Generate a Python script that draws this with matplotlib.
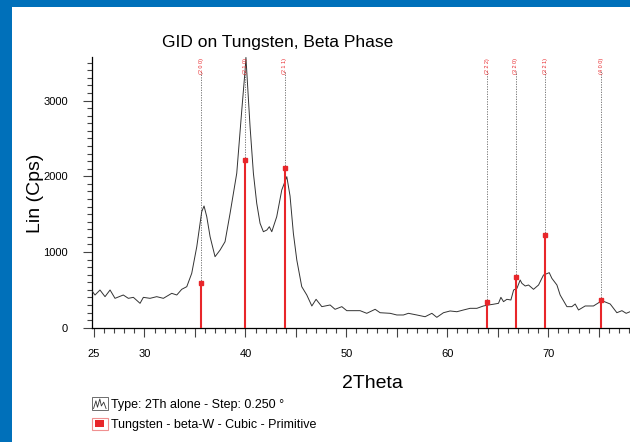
import numpy as np
import matplotlib
matplotlib.use("Agg")
import matplotlib.pyplot as plt
from matplotlib.patches import Rectangle
from matplotlib.lines import Line2D
from matplotlib.legend_handler import HandlerBase

plt.rcParams['font.family'] = ['Liberation Sans', 'DejaVu Sans']

# measured scan (2theta, counts)
two_theta = [24.85, 25.1, 25.59, 26.09, 26.59, 27.08, 27.9, 28.4, 28.9, 29.56,
             29.89, 30.55, 31.21, 31.87, 32.7, 33.2, 33.69, 34.19, 34.68, 35.18,
             35.67, 35.9, 36.17, 36.5, 36.99, 37.49, 37.98, 38.48, 39.14, 39.64,
             39.97, 40.05, 40.46, 40.79, 41.12, 41.45, 41.78, 42.12, 42.37, 42.61,
             43.1, 43.6, 44.1, 44.42, 44.75, 45.09, 45.58, 46.08, 46.58, 47.0,
             47.57, 48.39, 48.88, 49.55, 50.04, 51.36, 52.02, 52.85, 53.34, 54.34,
             55.0, 55.65, 56.15, 56.98, 57.8, 58.47, 58.96, 59.62, 60.28, 60.95,
             61.6, 62.26, 62.93, 63.58, 64.08, 64.57, 65.07, 65.31, 65.57, 65.9,
             66.3, 66.57, 66.9, 67.22, 67.39, 67.72, 68.05, 68.54, 69.04, 69.53,
             70.1, 70.36, 70.86, 71.18, 71.85, 72.34, 72.67, 73.0, 73.66, 74.48,
             75.32, 76.14, 76.8, 77.3, 77.72, 78.1]
counts = [476, 432, 498, 410, 498, 388, 432, 388, 401, 322,
          401, 388, 410, 388, 454, 432, 507, 542, 718, 1070,
          1532, 1608, 1466, 1202, 938, 1026, 1136, 1511, 2040, 2876,
          3404, 3570, 2655, 2040, 1643, 1379, 1268, 1290, 1334, 1268,
          1466, 1819, 1995, 1740, 1247, 894, 542, 432, 287, 375,
          278, 300, 243, 278, 225, 225, 190, 243, 198, 190,
          168, 168, 190, 168, 145, 190, 137, 198, 221, 211,
          234, 256, 256, 287, 300, 310, 322, 401, 344, 375,
          366, 498, 520, 630, 586, 551, 564, 507, 564, 696,
          727, 652, 564, 432, 278, 278, 313, 234, 287, 287,
          357, 313, 198, 225, 190, 211]

# reference pattern: beta-W
ref_pos = [35.6, 40.0, 43.9, 63.95, 66.8, 69.7, 75.25]
ref_int = [590, 2215, 2110, 340, 670, 1225, 365]
ref_hkl = ['(2 0 0)', '(2 1 0)', '(2 1 1)', '(2 2 2)', '(3 2 0)', '(3 2 1)', '(4 0 0)']

x_ticks = [25, 30, 35, 40, 45, 50, 55, 60, 65, 70, 75]
x_labels = ['25', '30', '', '40', '', '50', '', '60', '', '70', '']
y_ticks = [0, 1000, 2000, 3000]

fig = plt.figure(figsize=(6.3, 4.42), dpi=100, facecolor='#0070BA')
fig.patches.append(Rectangle((12 / 630, 0), 1, 1 - 7 / 442, transform=fig.transFigure,
                             facecolor='white', edgecolor='none', zorder=-1))

ax = fig.add_axes([92.3 / 630, 1 - 327.7 / 442, (630 - 92.3) / 630, (327.7 - 57) / 442])
ax.set_xlim(24.83, 78.1)
ax.set_ylim(0, 3576)

ax.plot(two_theta, counts, color='#333333', lw=0.7, zorder=3)

red = '#e8262a'
top = 3390
for p, h, lab in zip(ref_pos, ref_int, ref_hkl):
    ax.vlines(p, 0, h, color=red, lw=1.5, zorder=4)
    ax.plot([p], [h], marker='s', ms=2.6, color=red, mec=red, zorder=5)
    ax.vlines(p, h, top, color='#666666', lw=0.6, linestyles=(0, (1.5, 1.5)), zorder=2)
    ax.text(p, 3560, lab, rotation=90, ha='center', va='top', fontsize=4, color=red)

for s in ['top', 'right']:
    ax.spines[s].set_visible(False)
for s in ['left', 'bottom']:
    ax.spines[s].set_linewidth(0.9)

ax.set_xticks(x_ticks)
ax.set_xticklabels(x_labels)
ax.set_xticks(np.arange(25, 79, 1), minor=True)
ax.set_yticks(y_ticks)
ax.set_yticks(np.arange(0, 3600, 100), minor=True)
ax.tick_params(axis='both', which='major', length=6.5, width=0.8, color='#444444',
               labelsize=8, direction='out')
ax.tick_params(axis='both', which='minor', length=3.8, width=0.8, color='#444444',
               direction='out')
ax.tick_params(axis='x', which='major', pad=9)
ax.tick_params(axis='y', which='major', pad=11)

fig.text(278 / 630, 1 - 43 / 442, 'GID on Tungsten, Beta Phase', ha='center', va='center',
         fontsize=12.5)
fig.text(372 / 630, 1 - 383 / 442, '2Theta', ha='center', va='center', fontsize=14)
fig.text(36 / 630, 1 - 193 / 442, 'Lin (Cps)', ha='center', va='center', rotation=90,
         fontsize=14)


class ScanHandler(HandlerBase):
    def create_artists(self, legend, orig, xd, yd, w, h, fontsize, trans):
        box = Rectangle((-xd, -yd), w, h, fill=False, ec='#555555', lw=0.6, transform=trans)
        fx = np.array([0.1, 0.25, 0.35, 0.5, 0.6, 0.75, 0.9])
        fy = np.array([0.1, 0.7, 0.2, 0.85, 0.3, 0.6, 0.1])
        ln = Line2D(-xd + w * fx, -yd + h * fy, color='#333333', lw=0.6, transform=trans)
        return [box, ln]


class RefHandler(HandlerBase):
    def create_artists(self, legend, orig, xd, yd, w, h, fontsize, trans):
        box = Rectangle((-xd, -yd), w, h, fill=False, ec='#f09090', lw=0.8, transform=trans)
        sq = Rectangle((-xd + 0.22 * w, -yd + 0.22 * h), 0.56 * w, 0.56 * h,
                       facecolor=red, ec='none', transform=trans)
        return [box, sq]


h1 = Line2D([], [])
h2 = Rectangle((0, 0), 1, 1)
fig.legend([h1, h2], ['Type: 2Th alone - Step: 0.250 °', 'Tungsten - beta-W - Cubic - Primitive'],
           handler_map={h1: ScanHandler(), h2: RefHandler()},
           loc='upper left', bbox_to_anchor=(92 / 630, 1 - 397 / 442), frameon=False,
           fontsize=9, handlelength=1.25, handleheight=1.2, handletextpad=0.25,
           labelspacing=0.55, borderpad=0, borderaxespad=0)

fig.savefig('out.png', dpi=100, facecolor=fig.get_facecolor())
